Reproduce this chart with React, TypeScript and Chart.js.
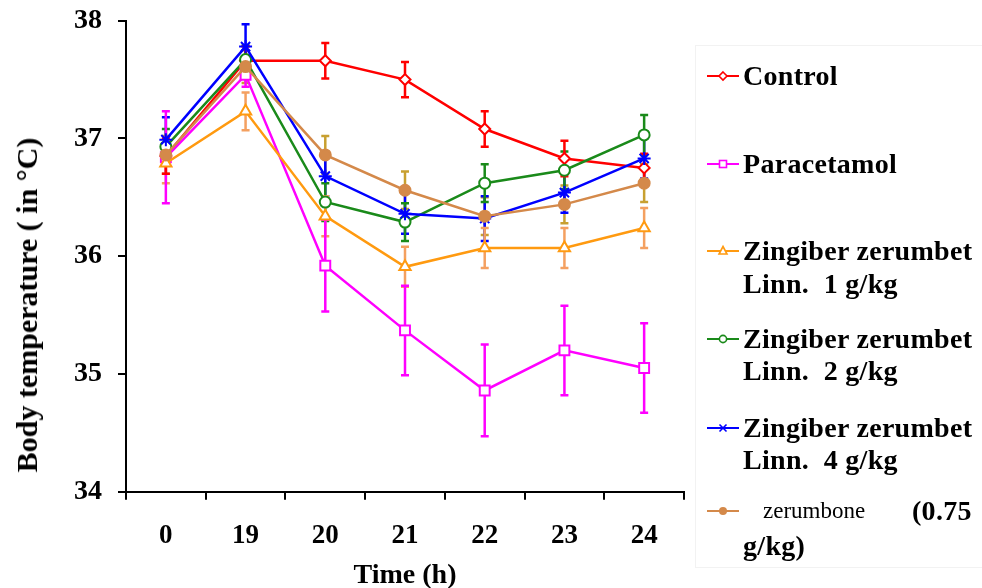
import React, { useEffect, useRef } from "react";
import { Chart, registerables } from "chart.js";

Chart.register(...registerables);

const TIME_LABELS = ["0", "19", "20", "21", "22", "23", "24"];
const Y_TICKS = [34, 35, 36, 37, 38];

const CONTROL = [36.85, 37.66, 37.66, 37.5, 37.08, 36.83, 36.75];
const CONTROL_ERR = [0.15, 0.12, 0.15, 0.15, 0.15, 0.15, 0.12];
const PARACETAMOL = [36.84, 37.54, 35.92, 35.37, 34.86, 35.2, 35.05];
const PARACETAMOL_ERR = [0.39, 0.1, 0.39, 0.38, 0.39, 0.38, 0.38];
const ZZ_1 = [36.79, 37.23, 36.34, 35.91, 36.07, 36.07, 36.24];
const ZZ_1_ERR = [0.17, 0.16, 0.17, 0.17, 0.17, 0.17, 0.17];
const ZZ_2 = [36.93, 37.67, 36.46, 36.29, 36.62, 36.73, 37.03];
const ZZ_2_ERR = [0.15, 0.12, 0.16, 0.16, 0.16, 0.16, 0.17];
const ZZ_4 = [36.99, 37.78, 36.68, 36.36, 36.32, 36.54, 36.83];
const ZZ_4_ERR = [0.19, 0.19, 0.17, 0.17, 0.19, 0.17, 0.17];
const ZERUMBONE = [36.86, 37.61, 36.86, 36.56, 36.34, 36.44, 36.62];
const ZERUMBONE_ERR = [0.16, 0.14, 0.16, 0.16, 0.16, 0.16, 0.16];

const SERIES_NAMES = [
  "Control",
  "Paracetamol",
  "Zingiber zerumbet Linn. 1 g/kg",
  "Zingiber zerumbet Linn. 2 g/kg",
  "Zingiber zerumbet Linn. 4 g/kg",
  "zerumbone (0.75 g/kg)",
];

const FONT = "'Liberation Serif', 'Times New Roman', serif";

const errorBarPlugin = {
  id: "errorBars",
  beforeDatasetsDraw(chart: any) {
    const ctx = chart.ctx;
    const yScale = chart.scales.y;
    const n = chart.data.datasets.length;
    for (let i = n - 1; i >= 0; i--) {
      const ds: any = chart.data.datasets[i];
      const meta = chart.getDatasetMeta(i);
      if (!ds.errors) continue;
      ctx.save();
      ctx.strokeStyle = ds.errorColor;
      ctx.lineWidth = 2.5;
      meta.data.forEach((pt: any, j: number) => {
        const v = ds.data[j];
        const e = ds.errors[j];
        const x = pt.x;
        const y1 = yScale.getPixelForValue(v + e);
        const y2 = yScale.getPixelForValue(v - e);
        ctx.beginPath();
        ctx.moveTo(x, y1);
        ctx.lineTo(x, y2);
        ctx.moveTo(x - 4, y1);
        ctx.lineTo(x + 4, y1);
        ctx.moveTo(x - 4, y2);
        ctx.lineTo(x + 4, y2);
        ctx.stroke();
      });
      ctx.restore();
    }
  },
};

function ChartCanvas() {
  const ref = useRef<HTMLCanvasElement | null>(null);
  useEffect(() => {
    if (!ref.current) return;
    const mk = (
      idx: number,
      data: number[],
      errors: number[],
      color: string,
      errorColor: string,
      pointStyle: string,
      radius: number,
      filled: boolean
    ) => ({
      label: SERIES_NAMES[idx],
      data,
      errors,
      errorColor,
      borderColor: color,
      backgroundColor: color,
      borderWidth: 2.5,
      pointStyle,
      pointRadius: radius,
      pointBorderWidth: 2,
      pointBorderColor: color,
      pointBackgroundColor: filled ? color : "#ffffff",
      order: 5 - idx,
      tension: 0,
    });
    const chart = new Chart(ref.current, {
      type: "line",
      data: {
        labels: TIME_LABELS,
        datasets: [
          mk(0, CONTROL, CONTROL_ERR, "#ff0000", "#ff0000", "rectRot", 5.5, false),
          mk(1, PARACETAMOL, PARACETAMOL_ERR, "#ff00ff", "#ff00ff", "rect", 7, false),
          mk(2, ZZ_1, ZZ_1_ERR, "#ff9a10", "#f4a060", "triangle", 6.5, false),
          mk(3, ZZ_2, ZZ_2_ERR, "#1a8a1a", "#1a8a1a", "circle", 5.5, false),
          mk(4, ZZ_4, ZZ_4_ERR, "#0000ff", "#0000ff", "star", 6.5, false),
          mk(5, ZERUMBONE, ZERUMBONE_ERR, "#d4894a", "#c8a030", "circle", 5.5, true),
        ] as any,
      },
      options: {
        animation: false,
        responsive: false,
        devicePixelRatio: 1,
        layout: { padding: { left: 0, right: 298, top: 20.7, bottom: 0 } },
        plugins: { legend: { display: false }, tooltip: { enabled: false } },
        scales: {
          x: {
            type: "category",
            offset: true,
            grid: {
              display: true,
              drawOnChartArea: false,
              drawTicks: true,
              tickLength: 8,
              offset: true,
              color: "#000000",
              lineWidth: 2,
            },
            border: { display: true, color: "#000000", width: 2 },
            ticks: {
              color: "#000000",
              font: { family: FONT, size: 27, weight: "bold" },
              padding: 20,
              maxRotation: 0,
            },
            title: {
              display: true,
              text: "Time (h)",
              color: "#000000",
              font: { family: FONT, size: 28, weight: "bold", lineHeight: 1 },
              padding: { top: 0, bottom: -2 },
            },
            afterFit: (s: any) => {
              s.height = 588 - 491.7;
              s.paddingLeft = 0;
              s.paddingRight = 0;
            },
          },
          y: {
            min: 34,
            max: 38,
            afterBuildTicks: (s: any) => {
              s.ticks = Y_TICKS.map((v) => ({ value: v }));
            },
            grid: {
              display: true,
              drawOnChartArea: false,
              drawTicks: true,
              tickLength: 8,
              color: "#000000",
              lineWidth: 2,
            },
            border: { display: true, color: "#000000", width: 2 },
            ticks: {
              color: "#000000",
              font: { family: FONT, size: 28, weight: "bold" },
              padding: 16,
            },
            afterFit: (s: any) => {
              s.width = 126;
              s.paddingTop = 0;
              s.paddingBottom = 0;
            },
          },
        },
      } as any,
      plugins: [errorBarPlugin],
    });
    return () => chart.destroy();
  }, []);
  return (
    <canvas
      ref={ref}
      width={982}
      height={588}
      style={{ position: "absolute", left: 0, top: 0, width: 982, height: 588 }}
    />
  );
}

function Marker({ kind, color }: { kind: string; color: string }) {
  let shape: any = null;
  if (kind === "diamond")
    shape = <polygon points="16,7 20,11 16,15 12,11" fill="#fff" stroke={color} strokeWidth={1.6} />;
  else if (kind === "square")
    shape = <rect x={12.5} y={7.5} width={7} height={7} fill="#fff" stroke={color} strokeWidth={1.6} />;
  else if (kind === "triangle")
    shape = <polygon points="16,6.5 20,14 12,14" fill="#fff" stroke={color} strokeWidth={1.6} />;
  else if (kind === "circle")
    shape = <circle cx={16} cy={11} r={3.6} fill="#fff" stroke={color} strokeWidth={1.6} />;
  else if (kind === "x")
    shape = (
      <g stroke={color} strokeWidth={1.6}>
        <line x1={12.5} y1={7.5} x2={19.5} y2={14.5} />
        <line x1={19.5} y1={7.5} x2={12.5} y2={14.5} />
      </g>
    );
  else if (kind === "dot") shape = <circle cx={16} cy={11} r={4} fill={color} />;
  return (
    <svg width={32} height={22} style={{ display: "block" }}>
      <line x1={0} y1={11} x2={32} y2={11} stroke={color} strokeWidth={2} />
      {shape}
    </svg>
  );
}

const LEGEND_ITEMS = [
  { kind: "diamond", color: "#ff0000", lines: ["Control"], ys: [76] },
  { kind: "square", color: "#ff00ff", lines: ["Paracetamol"], ys: [164] },
  { kind: "triangle", color: "#ff9a10", lines: ["Zingiber zerumbet", "Linn.\u00a0 1 g/kg"], ys: [251, 284] },
  { kind: "circle", color: "#1a8a1a", lines: ["Zingiber zerumbet", "Linn.\u00a0 2 g/kg"], ys: [339, 371] },
  { kind: "x", color: "#0000ff", lines: ["Zingiber zerumbet", "Linn.\u00a0 4 g/kg"], ys: [428, 460] },
];

export default function App() {
  const textStyle = (top: number, left: number, size = 28, bold = true): React.CSSProperties => ({
    position: "absolute",
    left,
    top: top - 16,
    height: 32,
    lineHeight: "32px",
    fontFamily: FONT,
    fontSize: size,
    fontWeight: bold ? "bold" : "normal",
    letterSpacing: bold ? "0.3px" : "0px",
    color: "#000",
    whiteSpace: "pre",
  });
  return (
    <div
      style={{
        position: "absolute",
        left: 0,
        top: 0,
        width: 982,
        height: 588,
        background: "#ffffff",
        overflow: "hidden",
      }}
    >
      <div
        style={{
          position: "absolute",
          left: 695,
          top: 45,
          width: 290,
          height: 523,
          border: "1px solid #f2f2f2",
          boxSizing: "border-box",
        }}
      />
      <ChartCanvas />
      <div
        style={{
          position: "absolute",
          left: 27,
          top: 305,
          transform: "translate(-50%, -50%) rotate(-90deg)",
          fontFamily: FONT,
          fontSize: 30,
          fontWeight: "bold",
          whiteSpace: "pre",
          lineHeight: "34px",
          color: "#000",
        }}
      >
        Body temperature ( in °C)
      </div>
      {LEGEND_ITEMS.map((it, i) => (
        <React.Fragment key={i}>
          <div style={{ position: "absolute", left: 707, top: it.ys[0] - 11 }}>
            <Marker kind={it.kind} color={it.color} />
          </div>
          {it.lines.map((t, k) => (
            <div key={k} style={textStyle(it.ys[k], 743)}>
              {t}
            </div>
          ))}
        </React.Fragment>
      ))}
      <div style={{ position: "absolute", left: 707, top: 511 - 11 }}>
        <Marker kind="dot" color="#d4894a" />
      </div>
      <div style={textStyle(511, 763, 23, false)}>zerumbone</div>
      <div style={textStyle(511, 912)}>(0.75</div>
      <div style={textStyle(546, 743)}>g/kg)</div>
    </div>
  );
}
